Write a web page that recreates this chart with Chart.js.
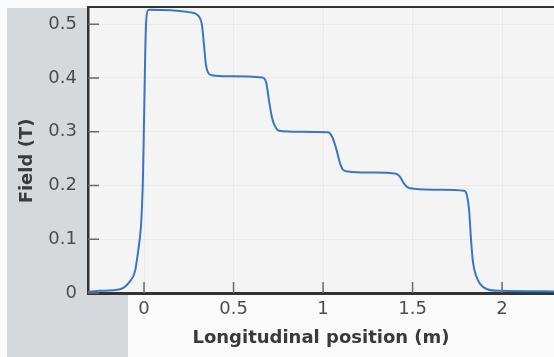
<!DOCTYPE html>
<html>
<head>
<meta charset="utf-8">
<script src="https://cdn.jsdelivr.net/npm/chart.js"></script>
<style>
  body { margin: 0; background: #fafafa; }
  #wrap { width: 554px; height: 357px; }
</style>
</head>
<body>
<div id="wrap"><canvas id="fieldChart"></canvas></div>
<script>
// longitudinal position (m) and field (T)
const positions = [-0.313, -0.246, -0.134, -0.078, -0.050, -0.034, -0.017, -0.011, -0.006, 0.0,
  0.006, 0.011, 0.022, 0.034, 0.145, 0.257, 0.29, 0.313, 0.324, 0.335,
  0.346, 0.358, 0.38, 0.48, 0.659, 0.682, 0.698, 0.715, 0.732, 0.754,
  0.872, 1.028, 1.050, 1.073, 1.095, 1.112, 1.140, 1.263, 1.408, 1.430,
  1.453, 1.475, 1.508, 1.654, 1.788, 1.804, 1.816, 1.827, 1.838, 1.855,
  1.877, 1.916, 1.989, 2.29];
const field = [0.002, 0.004, 0.007, 0.022, 0.041, 0.075, 0.125, 0.165, 0.215, 0.321,
  0.433, 0.498, 0.526, 0.527, 0.526, 0.522, 0.519, 0.511, 0.498, 0.461,
  0.424, 0.410, 0.405, 0.403, 0.401, 0.392, 0.358, 0.326, 0.310, 0.302,
  0.300, 0.299, 0.291, 0.269, 0.241, 0.229, 0.226, 0.224, 0.222, 0.216,
  0.203, 0.196, 0.194, 0.192, 0.190, 0.181, 0.153, 0.097, 0.056, 0.032,
  0.017, 0.007, 0.004, 0.003];

const xTicks = [0, 0.5, 1, 1.5, 2];
const xTickLabels = ['0', '0.5', '1', '1.5', '2'];
const yTicks = [0, 0.1, 0.2, 0.3, 0.4, 0.5];
const yTickLabels = ['0', '0.1', '0.2', '0.3', '0.4', '0.5'];

const xTitle = 'Longitudinal position (m)';
const yTitle = 'Field (T)';

const points = positions.map((p, i) => ({ x: p, y: field[i] }));

// page background, grey band and the plot area
const backdrop = {
  id: 'backdrop',
  beforeDraw(chart) {
    const c = chart.ctx, a = chart.chartArea;
    c.save();
    c.fillStyle = '#fafafa';
    c.fillRect(0, 0, chart.width, chart.height);
    c.fillStyle = '#d5d9dc';
    c.fillRect(7, 8, a.left - 7, chart.height - 8);
    c.fillRect(7, a.bottom, 121, chart.height - a.bottom);
    c.fillStyle = '#f4f4f4';
    c.fillRect(a.left, a.top, a.right - a.left, a.bottom - a.top);
    c.restore();
  },
  afterDraw(chart) {
    const c = chart.ctx, a = chart.chartArea;
    const xs = chart.scales.x, ys = chart.scales.y;
    c.save();
    // inward tick marks
    c.strokeStyle = '#6a6a6a';
    c.lineWidth = 1.5;
    c.beginPath();
    xs.ticks.forEach(t => {
      const px = xs.getPixelForValue(t.value);
      c.moveTo(px, a.bottom);
      c.lineTo(px, a.bottom - 11);
    });
    ys.ticks.forEach(t => {
      const py = ys.getPixelForValue(t.value);
      c.moveTo(a.left, py);
      c.lineTo(a.left + 11, py);
    });
    c.stroke();
    // top frame
    c.strokeStyle = '#333';
    c.lineWidth = 2;
    c.beginPath();
    c.moveTo(a.left, a.top);
    c.lineTo(a.right, a.top);
    c.stroke();
    // y title
    c.translate(27, 161);
    c.rotate(-Math.PI / 2);
    c.fillStyle = '#3a3a3a';
    c.font = 'bold 18px "DejaVu Sans"';
    c.textAlign = 'center';
    c.textBaseline = 'middle';
    c.fillText(yTitle, 0, 0);
    c.restore();
  }
};

new Chart(document.getElementById('fieldChart'), {
  type: 'line',
  data: {
    datasets: [{
      data: points,
      borderColor: '#3a76c4',
      borderWidth: 2,
      pointRadius: 0,
      cubicInterpolationMode: 'monotone',
      fill: false
    }]
  },
  options: {
    responsive: true,
    maintainAspectRatio: false,
    animation: false,
    layout: { padding: { top: 7, left: 0, right: 0, bottom: 0 } },
    plugins: { legend: { display: false }, tooltip: { enabled: false } },
    scales: {
      x: {
        type: 'linear',
        min: -0.313,
        max: 2.29,
        afterBuildTicks: s => { s.ticks = xTicks.map(v => ({ value: v })); },
        afterFit: s => { s.height = 64; s.paddingLeft = 0; s.paddingRight = 0; },
        grid: { color: 'rgba(0,0,0,0.035)', drawTicks: false },
        border: { color: '#333', width: 3 },
        ticks: {
          padding: 6,
          color: '#4d4d4d',
          font: { family: 'DejaVu Sans', size: 18 },
          maxRotation: 0,
          callback: v => xTickLabels[xTicks.indexOf(v)]
        },
        title: {
          display: true,
          text: xTitle,
          color: '#3a3a3a',
          font: { family: 'DejaVu Sans', size: 18, weight: 'bold' },
          padding: { top: 0, bottom: 8 }
        }
      },
      y: {
        min: 0,
        max: 0.532,
        afterBuildTicks: s => { s.ticks = yTicks.map(v => ({ value: v })); },
        afterFit: s => { s.width = 88; s.paddingTop = 0; s.paddingBottom = 0; },
        grid: { color: 'rgba(0,0,0,0.035)', drawTicks: false },
        border: { color: '#333', width: 2.5 },
        ticks: {
          padding: 11,
          color: '#4d4d4d',
          font: { family: 'DejaVu Sans', size: 18 },
          callback: v => yTickLabels[yTicks.indexOf(v)]
        }
      }
    }
  },
  plugins: [backdrop]
});
</script>
</body>
</html>
